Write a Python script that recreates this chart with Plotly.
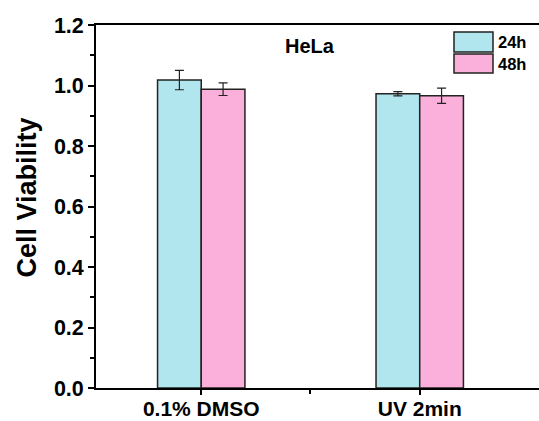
import plotly.graph_objects as go

categories = ["0.1% DMSO", "UV 2min"]
series_names = ["24h", "48h"]
values_24h = [1.018, 0.973]
errors_24h = [0.032, 0.007]
values_48h = [0.988, 0.966]
errors_48h = [0.021, 0.025]
y_ticks = [0.0, 0.2, 0.4, 0.6, 0.8, 1.0, 1.2]

colors = ["#B2E6EE", "#FBB0DB"]
FONT = "Arial, Liberation Sans, sans-serif"
x_pos = list(range(len(categories)))

fig = go.Figure()
for name, vals, errs, col in [
    (series_names[0], values_24h, errors_24h, colors[0]),
    (series_names[1], values_48h, errors_48h, colors[1]),
]:
    fig.add_trace(go.Bar(
        x=x_pos, y=vals, name=name,
        marker=dict(color=col, line=dict(color="#222222", width=1.5)),
        error_y=dict(type="data", array=errs, visible=True, color="#222222",
                     thickness=1.2, width=4.5),
        showlegend=False,
    ))

W, H = 539, 421
ml, mt, mb, mr = 96, 25, 33, 0
x_range = [-0.4817, 1.5459]

fig.update_layout(
    width=W, height=H,
    margin=dict(l=ml, r=mr, t=mt, b=mb),
    paper_bgcolor="white", plot_bgcolor="white",
    barmode="group", bargap=0.6, bargroupgap=0,
    font=dict(family=FONT, color="black"),
    xaxis=dict(
        range=x_range, tickmode="array", tickvals=x_pos, ticktext=categories,
        showline=True, linecolor="black", linewidth=1.8, mirror=True,
        ticks="outside", ticklen=5, tickwidth=1.5, tickcolor="black",
        tickfont=dict(size=21, family=FONT, color="black", weight="bold"),
        ticklabelstandoff=-4,
        showgrid=False, zeroline=False, automargin=False,
        minor=dict(tickvals=[0.5], ticks="outside", ticklen=4, tickwidth=1.5, tickcolor="black"),
    ),
    yaxis=dict(
        range=[0, 1.2], tickmode="array", tickvals=y_ticks,
        ticktext=[f"{v:.1f}" for v in y_ticks],
        showline=True, linecolor="black", linewidth=1.8, mirror=False,
        ticks="outside", ticklen=6, tickwidth=1.5, tickcolor="black",
        tickfont=dict(size=21.5, family=FONT, color="black", weight="bold"),
        showgrid=False, zeroline=False, automargin=False,
        minor=dict(dtick=0.1, ticks="outside", ticklen=4, tickwidth=1.5, tickcolor="black"),
    ),
)


def px_x(x):
    return (x - ml) / (W - ml - mr)


def px_y(y):
    return 1 - (y - mt) / (H - mt - mb)


# Y axis title
fig.add_annotation(text="<b>Cell Viability</b>", xref="paper", yref="paper",
                   x=px_x(26), y=px_y(197.5), showarrow=False, textangle=-90,
                   xanchor="center", yanchor="middle",
                   font=dict(size=27, family=FONT, color="black"))

# Title annotation
fig.add_annotation(text="<b>HeLa</b>", xref="paper", yref="paper",
                   x=px_x(310), y=px_y(46), showarrow=False,
                   font=dict(size=20, family=FONT, color="black"),
                   xanchor="center", yanchor="middle")

# Legend drawn manually (large boxes)
legend_rows = [(32, 52), (54, 73)]
for (y0, y1), name, col in zip(legend_rows, series_names, colors):
    fig.add_shape(type="rect", xref="paper", yref="paper",
                  x0=px_x(454), x1=px_x(493), y0=px_y(y1), y1=px_y(y0),
                  fillcolor=col, line=dict(color="#222222", width=1.5))
    fig.add_annotation(text=f"<b>{name}</b>", xref="paper", yref="paper",
                       x=px_x(495.5), y=px_y((y0 + y1) / 2), showarrow=False,
                       xanchor="left", yanchor="middle",
                       font=dict(size=16.5, family=FONT, color="black"))

fig.write_html("out.html")
